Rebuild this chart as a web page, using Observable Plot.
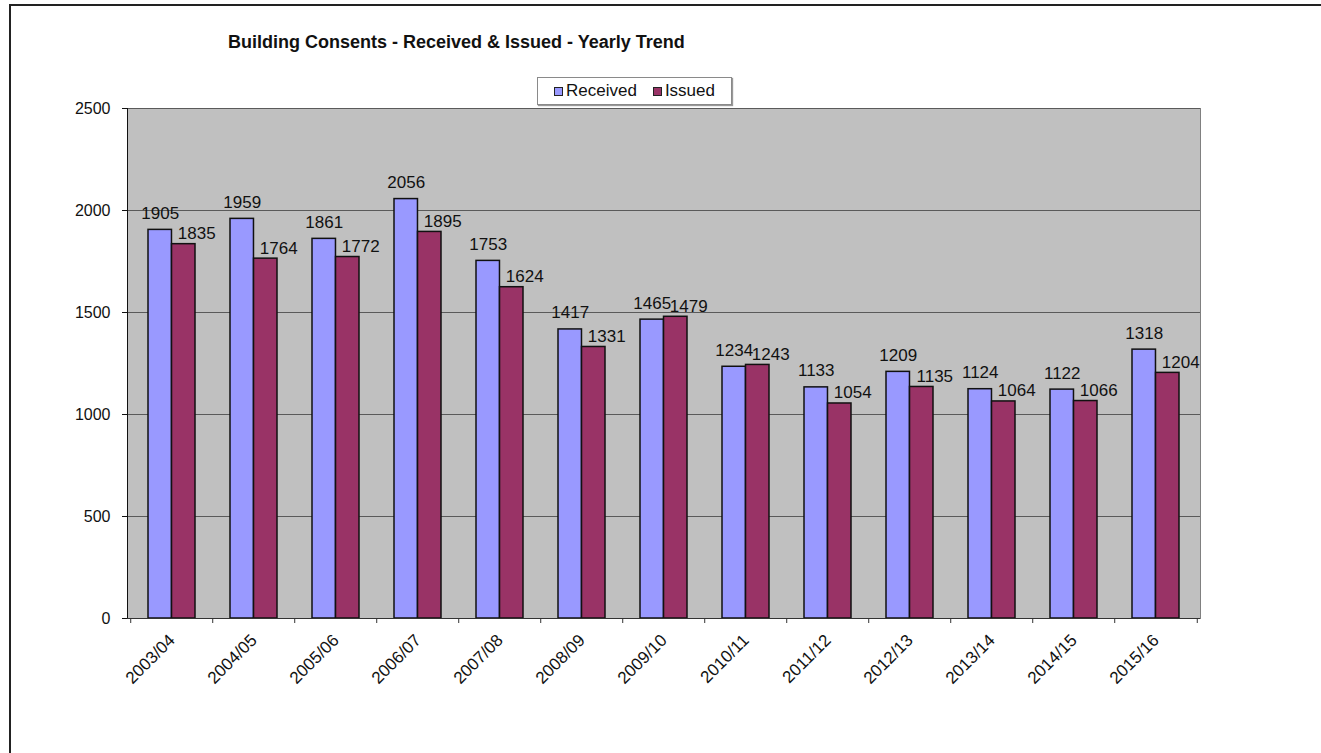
<!DOCTYPE html>
<html>
<head>
<meta charset="utf-8">
<script src="https://cdn.jsdelivr.net/npm/d3@7"></script>
<script src="https://cdn.jsdelivr.net/npm/@observablehq/plot@0.6"></script>
<style>
  html, body { margin: 0; padding: 0; background: #fff; overflow: hidden; }
  body { width: 1321px; height: 753px; position: relative; font-family: "Liberation Sans", Arial, sans-serif; }
  #bt { position: absolute; left: 9px; top: 4px; width: 1312px; height: 2px; background: #222; }
  #bl { position: absolute; left: 9px; top: 4px; width: 2px; height: 749px; background: #222; }
  #chart { position: absolute; left: 0; top: 0; }
  #title { position: absolute; left: 228px; top: 32px; font-weight: bold; font-size: 18px; color: #111; white-space: nowrap; }
  #legend { position: absolute; left: 537px; top: 77px; width: 193px; height: 26px; border: 1px solid #8a8a8a; background: #fff; box-shadow: 1px 1px 1px #999; display: flex; align-items: center; justify-content: center; gap: 16px; font-size: 17px; color: #111; }
  #legend .item { display: flex; align-items: center; gap: 3px; }
  #legend .sw { width: 7px; height: 7px; border: 1px solid #222; }
</style>
</head>
<body>
<div id="bt"></div>
<div id="bl"></div>
<div id="chart"></div>
<div id="title">Building Consents - Received &amp; Issued - Yearly Trend</div>
<div id="legend"></div>
<script>
const categories = ["2003/04","2004/05","2005/06","2006/07","2007/08","2008/09","2009/10","2010/11","2011/12","2012/13","2013/14","2014/15","2015/16"];
const received = [1905,1959,1861,2056,1753,1417,1465,1234,1133,1209,1124,1122,1318];
const issued = [1835,1764,1772,1895,1624,1331,1479,1243,1054,1135,1064,1066,1204];
const series = ["Received","Issued"];
const colors = ["#9999FF","#993366"];
const yTicks = [0,500,1000,1500,2000,2500];

const data = categories.map((c, i) => ({category: c, received: received[i], issued: issued[i]}));

const W = 1321, H = 753, mL = 127, mR = 121, mT = 108, mB = 135;
const padInner = 0.43;
const step = (W - mL - mR) / categories.length;
const bw = step * (1 - padInner);
const half = bw / 2;

const chart = Plot.plot({
  width: W,
  height: H,
  marginLeft: mL,
  marginRight: mR,
  marginTop: mT,
  marginBottom: mB,
  style: {fontFamily: "'Liberation Sans', Arial, sans-serif", fontSize: "16px", color: "#111", background: "transparent"},
  x: {domain: categories, paddingInner: padInner, paddingOuter: padInner / 2, label: null},
  y: {domain: [0, 2500], label: null},
  marks: [
    Plot.frame({fill: "#C0C0C0", stroke: "#808080"}),
    Plot.ruleY(yTicks.filter(d => d > 0), {stroke: "#5a5a5a", strokeWidth: 1}),
    Plot.barY(data, {x: "category", y: "received", fill: colors[0], stroke: "#111", strokeWidth: 1.5, insetRight: half}),
    Plot.barY(data, {x: "category", y: "issued", fill: colors[1], stroke: "#111", strokeWidth: 1.5, insetLeft: half}),
    Plot.text(data, {x: "category", y: "received", text: d => String(d.received), dx: -half / 2, dy: -11, lineAnchor: "bottom", fontSize: 17, fill: "#111"}),
    Plot.text(data, {x: "category", y: "issued", text: d => String(d.issued), dx: half / 2 + 13, dy: -5, lineAnchor: "bottom", fontSize: 17, fill: "#111"}),
    Plot.frame({anchor: "left", stroke: "#111"}),
    Plot.ruleY([0], {stroke: "#333"}),
    Plot.axisY({ticks: yTicks, tickFormat: d3.format("d"), tickSize: 5, tickPadding: 12, fontSize: 16, label: null, stroke: "#111"}),
    Plot.axisX({tickSize: 0, tickRotate: -45, tickPadding: 19, fontSize: 17, label: null}),
    Plot.axisX({tickSize: 5, text: null, dx: -step / 2, label: null, stroke: "#333"}),
    Plot.axisX({ticks: [categories[categories.length - 1]], tickSize: 5, text: null, dx: step / 2, label: null, stroke: "#333"})
  ]
});
document.getElementById("chart").appendChild(chart);

const legend = document.getElementById("legend");
series.forEach((s, i) => {
  const item = document.createElement("div");
  item.className = "item";
  const sw = document.createElement("div");
  sw.className = "sw";
  sw.style.background = colors[i];
  const t = document.createElement("span");
  t.textContent = s;
  item.appendChild(sw);
  item.appendChild(t);
  legend.appendChild(item);
});
</script>
</body>
</html>
